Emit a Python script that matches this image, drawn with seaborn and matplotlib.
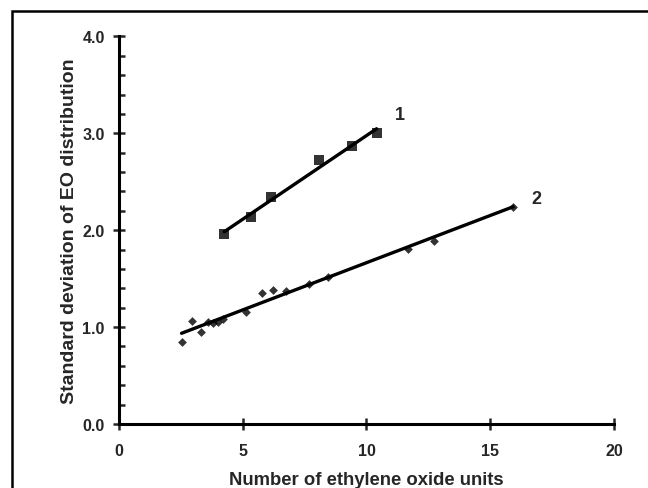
import matplotlib
matplotlib.use("Agg")
import matplotlib.pyplot as plt
from matplotlib.patches import Rectangle
from matplotlib.ticker import MultipleLocator
import seaborn as sns
import numpy as np

# series 1 (squares)
eo1 = [4.26, 5.34, 6.15, 8.09, 9.41, 10.41]
sd1 = [1.96, 2.14, 2.34, 2.72, 2.87, 3.00]
# series 2 (diamonds)
eo2 = [2.54, 2.97, 3.32, 3.59, 3.82, 4.02, 4.22, 5.14, 5.79, 6.24, 6.74, 7.69, 8.43, 11.68, 12.73, 15.92]
sd2 = [0.85, 1.06, 0.95, 1.05, 1.04, 1.05, 1.08, 1.16, 1.35, 1.38, 1.37, 1.44, 1.52, 1.81, 1.89, 2.24]

sns.set_style("ticks")
plt.rcParams['font.family'] = ['Liberation Sans', 'DejaVu Sans']
plt.rcParams['font.weight'] = 'bold'

fig = plt.figure(figsize=(6.48, 4.89), dpi=100)
ax = fig.add_axes([0.183, 0.131, 0.765, 0.7925])

sns.regplot(x=eo1, y=sd1, ax=ax, ci=None, color='black', marker='s',
            scatter_kws={'s': 45, 'linewidths': 0}, line_kws={'lw': 2.4})
sns.regplot(x=eo2, y=sd2, ax=ax, ci=None, color='black', marker='D',
            scatter_kws={'s': 20, 'linewidths': 0}, line_kws={'lw': 2.4})

ax.text(11.35, 3.19, '1', fontsize=13, fontweight='bold', ha='center', va='center')
ax.text(16.86, 2.33, '2', fontsize=13, fontweight='bold', ha='center', va='center')

ax.set_xlim(0, 20)
ax.set_ylim(0, 4)
ax.set_xticks([0, 5, 10, 15, 20])
ax.set_yticks([0, 1, 2, 3, 4])
ax.set_yticklabels(['0.0', '1.0', '2.0', '3.0', '4.0'])
ax.yaxis.set_minor_locator(MultipleLocator(0.2))
ax.tick_params(axis='x', which='major', direction='inout', length=8, width=1.8,
               labelsize=11.5, pad=10)
ax.tick_params(axis='y', which='major', direction='inout', length=8, width=1.8,
               labelsize=11.5, pad=6)
ax.tick_params(axis='y', which='minor', direction='in', length=4, width=1.8)
for lab in ax.get_xticklabels() + ax.get_yticklabels():
    lab.set_fontweight('bold')

for s in ['top', 'right']:
    ax.spines[s].set_visible(False)
for s in ['left', 'bottom']:
    ax.spines[s].set_linewidth(2.2)
    ax.spines[s].set_color('black')

ax.set_xlabel('Number of ethylene oxide units', fontsize=13.3, fontweight='bold', labelpad=9)
ax.set_ylabel('Standard deviation of EO distribution', fontsize=14, fontweight='bold', labelpad=3)

# outer frame of the original figure (right/bottom edges cut off)
fig.patches.append(Rectangle((12 / 648, -0.1), 1.2, 1 - 12 / 489 + 0.1,
                             transform=fig.transFigure, fill=False,
                             edgecolor='black', linewidth=1.8))

fig.savefig('out.png', dpi=100)
